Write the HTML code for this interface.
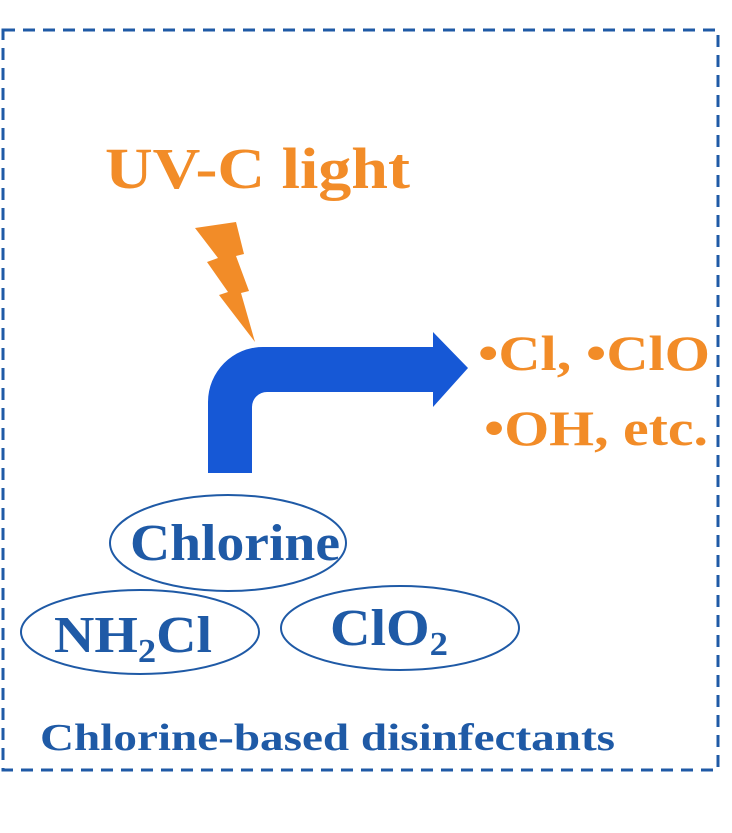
<!DOCTYPE html>
<html><head><style>
html,body{margin:0;padding:0;background:#fff;}
body{width:732px;height:828px;overflow:hidden;}
</style></head><body>
<svg width="732" height="828" viewBox="0 0 732 828" xmlns="http://www.w3.org/2000/svg">
<rect x="3" y="30" width="715" height="740" fill="none" stroke="#1f5aa6" stroke-width="3" stroke-dasharray="12,8"/>
<text x="105" y="188" font-family="Liberation Serif, serif" font-weight="bold" font-size="58" fill="#f28c28" textLength="305" lengthAdjust="spacingAndGlyphs">UV-C light</text>
<polygon points="195,228 236,222 244,254 236,256 249,291 241,293 255,342 219,295 228,292 207,262 218,258" fill="#f28c28"/>
<path d="M208,473 L208,402 A55,55 0 0 1 263,347 L433,347 L433,332 L468,368 L433,407 L433,392 L267,392 A15,15 0 0 0 252,407 L252,473 Z" fill="#1658d6"/>
<text x="478" y="370" font-family="Liberation Serif, serif" font-weight="bold" font-size="50" fill="#f28c28" textLength="232" lengthAdjust="spacingAndGlyphs">•Cl, •ClO</text>
<text x="484" y="445" font-family="Liberation Serif, serif" font-weight="bold" font-size="50" fill="#f28c28" textLength="224" lengthAdjust="spacingAndGlyphs">•OH, etc.</text>
<g fill="none" stroke="#1f5aa6" stroke-width="2">
<ellipse cx="228" cy="543" rx="118" ry="48"/>
<ellipse cx="140" cy="632" rx="119" ry="42"/>
<ellipse cx="400" cy="628" rx="119" ry="42"/>
</g>
<g font-family="Liberation Serif, serif" font-weight="bold" fill="#1f5aa6">
<text x="130" y="560" font-size="52" textLength="210" lengthAdjust="spacingAndGlyphs">Chlorine</text>
<text x="54" y="652" font-size="52" textLength="158" lengthAdjust="spacingAndGlyphs">NH<tspan font-size="34" dy="10">2</tspan><tspan dy="-10">Cl</tspan></text>
<text x="330" y="645" font-size="52" textLength="118" lengthAdjust="spacingAndGlyphs">ClO<tspan font-size="34" dy="10">2</tspan></text>
<text x="40" y="750" font-size="38" textLength="575" lengthAdjust="spacingAndGlyphs">Chlorine-based disinfectants</text>
</g>
</svg>
</body></html>
